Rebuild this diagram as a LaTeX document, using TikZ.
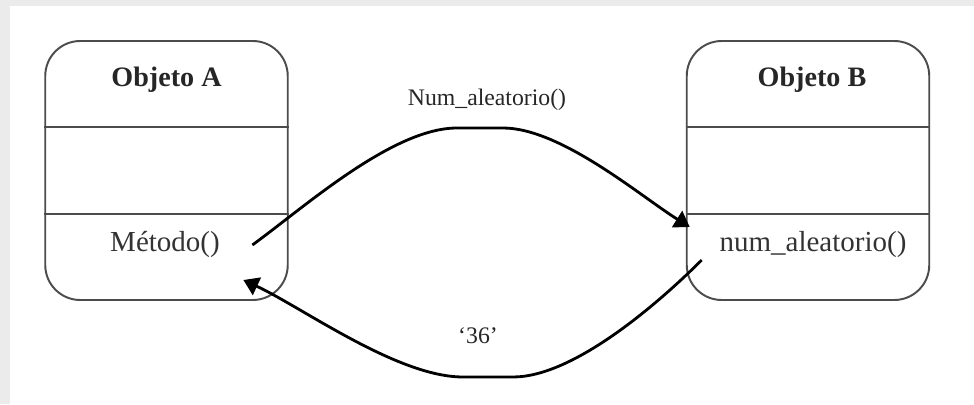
\documentclass[tikz,border=0pt]{standalone}
\usepackage{fontspec}
\setmainfont{Liberation Serif}
\usetikzlibrary{positioning, calc, arrows.meta}

\begin{document}
\begin{tikzpicture}[
    objbox/.style={draw=black!70, line width=1.1pt, rectangle, rounded corners=0.7cm, minimum width=4.85cm, minimum height=5.18cm, fill=white},
    divider/.style={draw=black!70, line width=1.1pt},
    objtitle/.style={font=\fontsize{16}{19}\selectfont\bfseries, text=black!85, inner sep=2pt},
    methodtext/.style={font=\fontsize{16.5}{20}\selectfont, text=black!80, inner sep=2pt},
    msg/.style={line width=1.6pt, looseness=0.7, -{Triangle[length=0.3cm, width=0.38cm]}},
    msglabel/.style={font=\fontsize{13.5}{16}\selectfont, text=black!85}
]
    % Background
    \fill[black!8] (0,0) rectangle (19.48,8.08);
    \fill[white] (0.2,0) rectangle (19.48,7.96);
    \useasboundingbox (0,0) rectangle (19.48,8.08);

    % Objects
    \node[objbox] (objA) at (3.33,4.67) {};
    \node[objbox] (objB) at (16.16,4.67) {};

    % Compartment lines
    \draw[divider] ($(objA.north west)!1/3!(objA.south west)$) -- ($(objA.north east)!1/3!(objA.south east)$);
    \draw[divider] ($(objA.north west)!2/3!(objA.south west)$) -- ($(objA.north east)!2/3!(objA.south east)$);
    \draw[divider] ($(objB.north west)!1/3!(objB.south west)$) -- ($(objB.north east)!1/3!(objB.south east)$);
    \draw[divider] ($(objB.north west)!2/3!(objB.south west)$) -- ($(objB.north east)!2/3!(objB.south east)$);

    % Names and methods
    \node[objtitle] (titA) at (3.33,6.48) {Objeto A};
    \node[objtitle] (titB) at (16.24,6.48) {Objeto B};
    \node[methodtext] (metA) at (3.30,3.18) {Método()};
    \node[methodtext] (metB) at (16.26,3.18) {num\_aleatorio()};

    % Messages
    \draw[msg] ([xshift=0.575cm]metA.east) to[out=36, in=180] (9.14,5.52)
        -- node[msglabel, above=0.2cm, xshift=0.14cm] (call) {Num\_aleatorio()} (10.06,5.52)
        to[out=0, in=148] ([xshift=-0.52cm, yshift=0.36cm]metB.west);
    \draw[msg] ([xshift=-0.28cm, yshift=-0.3cm]metB.west) to[out=225, in=0] (10.26,0.54)
        -- node[msglabel, above=0.52cm, xshift=-0.2cm] (ret) {‘36’} (9.26,0.54)
        to[out=180, in=-25] ([xshift=0.395cm, yshift=-0.7cm]metA.east);

\end{tikzpicture}
\end{document}
